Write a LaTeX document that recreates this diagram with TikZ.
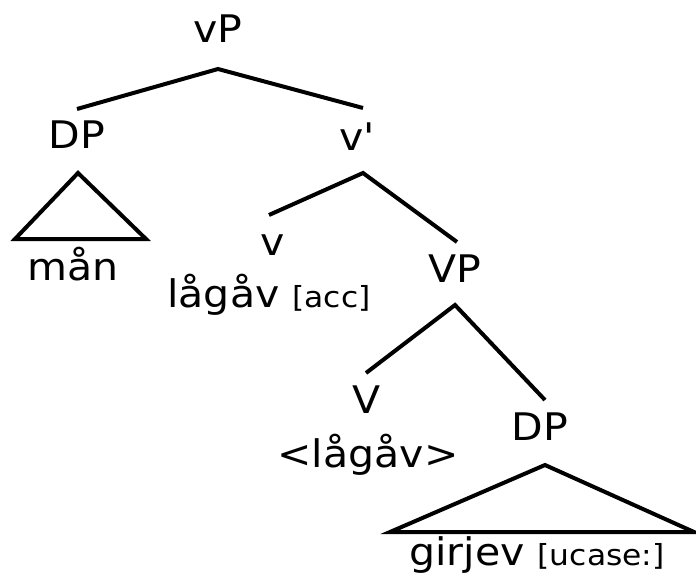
\documentclass[tikz,border=0pt]{standalone}
\usepackage{fontspec}
\setmainfont{DejaVu Sans}
\newfontfamily\treefont[FakeStretch=1.08]{DejaVu Sans}
\tikzset{
  lbl/.style={anchor=base, inner sep=0pt, font=\treefont\fontsize{38}{41}\selectfont},
  branch/.style={line width=4pt, line cap=butt, line join=miter},
}
\newcommand{\sm}[1]{{\fontsize{29}{32}\selectfont #1}}
\begin{document}
\begin{tikzpicture}[x=1pt,y=-1pt]
\useasboundingbox (0,0) rectangle (696,583);
% labels
\node[lbl] (vP) at (218,43) {vP};
\node[lbl] (DPa) at (77,149) {DP};
\node[lbl] (vbar) at (357,150) {v'};
\node[lbl] (man) at (73,280) {mån};
\node[lbl] (v) at (273,255) {v};
\node[lbl] (lagav) at (269,307) {lågåv \sm{[acc]}};
\node[lbl] (VP) at (455,282) {VP};
\node[lbl] (V) at (367,413) {V};
\node[lbl] (lagavt) at (368,467) {<lågåv>};
\node[lbl] (DPb) at (540,440) {DP};
\node[lbl] (girjev) at (537,565) {girjev \sm{[ucase:]}};
% branch points
\coordinate (vP-t) at (218,69);
\coordinate (DPa-t) at (77,109);
\coordinate (vbar-t) at (363,108);
\coordinate (vbar-b) at (363,173);
\coordinate (v-t) at (269,215);
\coordinate (VP-t) at (457,242);
\coordinate (VP-b) at (455,305);
\coordinate (V-t) at (366,373);
\coordinate (DPb-t) at (545,400);
% branches
\draw[branch] (DPa-t) -- (vP-t) -- (vbar-t);
\draw[branch] (v-t) -- (vbar-b) -- (VP-t);
\draw[branch] (V-t) -- (VP-b) -- (DPb-t);
% triangles
\coordinate (triA-t) at (78,173);
\coordinate (triA-l) at (15,239);
\coordinate (triA-r) at (146,239);
\draw[branch] (triA-t) -- (triA-l) -- (triA-r) -- cycle;
\coordinate (triB-t) at (545,465);
\coordinate (triB-l) at (390,532);
\coordinate (triB-r) at (694,532);
\draw[branch] (triB-t) -- (triB-l) -- (triB-r) -- cycle;
\end{tikzpicture}
\end{document}
